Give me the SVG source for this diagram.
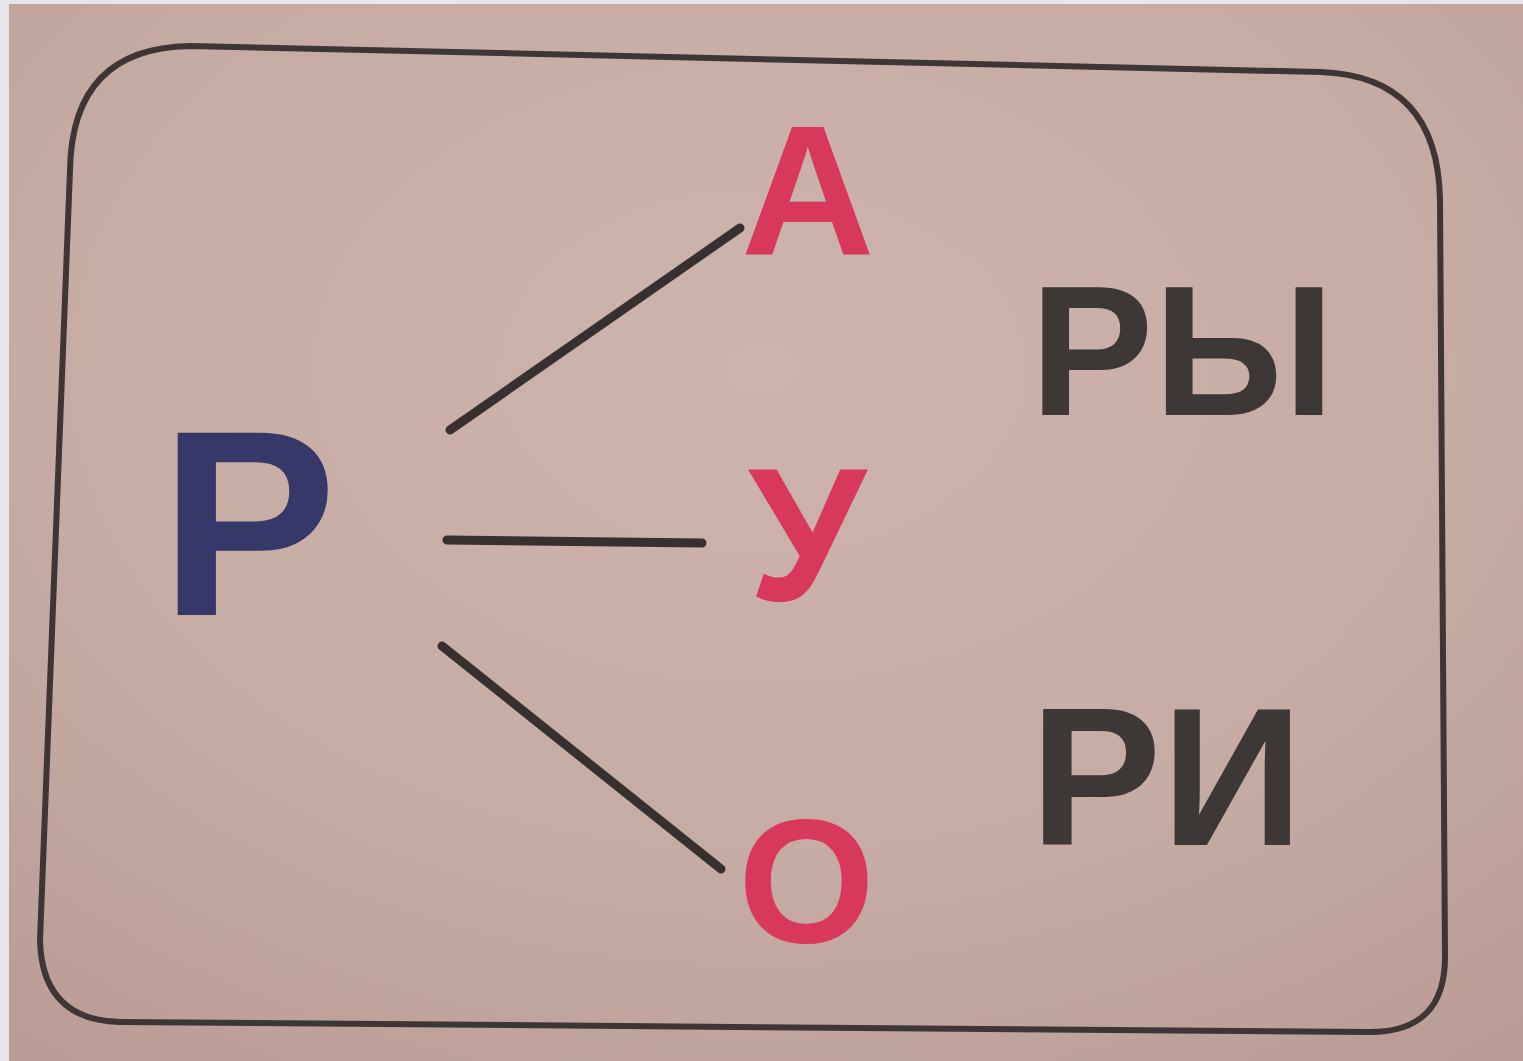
<svg xmlns="http://www.w3.org/2000/svg" width="1523" height="1061" viewBox="0 0 1523 1061">
<defs>
<radialGradient id="bg" cx="0.5" cy="0.35" r="0.8">
<stop offset="0" stop-color="#cdb4ac"/>
<stop offset="0.6" stop-color="#c6aba2"/>
<stop offset="1" stop-color="#b99d94"/>
</radialGradient>
<style>
.t{font-family:"Liberation Sans",Arial,sans-serif;font-weight:bold}
.red{fill:#d8395a}
.blue{fill:#363869}
.dark{fill:#3d3735}
.ln{stroke:#37302e;stroke-width:9;stroke-linecap:round;fill:none}
</style>
</defs>
<rect width="1523" height="1061" fill="url(#bg)"/>
<rect x="0" y="0" width="9" height="1061" fill="#e6e6e8"/>
<rect x="0" y="0" width="1523" height="4" fill="#e6e6e8"/>
<g id="frame">
<path d="M70,170 Q72,48 190,46 L1320,72 Q1438,76 1440,200 L1445,955 Q1446,1032 1370,1032 L120,1022 Q42,1020 40,940 Z" fill="none" stroke="#3d3634" stroke-width="6"/>
</g>
<g id="connectors">
<line class="ln" x1="450" y1="430" x2="740" y2="228"/>
<line class="ln" x1="447" y1="540" x2="702" y2="543"/>
<line class="ln" x1="442" y1="646" x2="721" y2="869"/>
</g>
<g id="node-R"><text class="t blue" x="160" y="615" font-size="265">Р</text></g>
<g id="node-A"><text class="t red" x="741" y="255" font-size="185">А</text></g>
<g id="node-U"><text class="t red" x="748" y="600" font-size="190">У</text></g>
<g id="node-O"><text class="t red" x="738" y="942" font-size="176">О</text></g>
<g id="node-RY"><text class="t dark" x="1030" y="415" font-size="185">РЫ</text></g>
<g id="node-RI"><text class="t dark" x="1030" y="845" font-size="197">РИ</text></g>
</svg>
